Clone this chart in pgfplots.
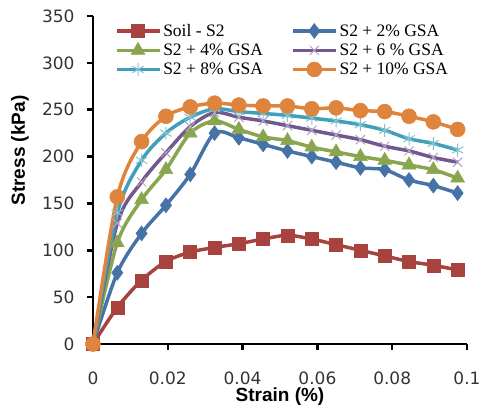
\documentclass[border=0pt]{standalone}
\usepackage{fontspec}
\setmainfont{Liberation Serif}
\newfontfamily\tickfont{DejaVu Sans}
\newfontfamily\labfont{Liberation Sans}
\usepackage{pgfplots}
\usepackage{pgfplotstable}
\pgfplotsset{compat=1.18}
\definecolor{cSoil}{RGB}{168,66,63}
\definecolor{cTwo}{RGB}{69,114,167}
\definecolor{cFour}{RGB}{137,165,78}
\definecolor{cSix}{RGB}{113,88,143}
\definecolor{cEight}{RGB}{65,160,185}
\definecolor{cTen}{RGB}{222,132,60}
\pgfplotstableread{
x soil s2 s4 s6 s8 s10
0 0 0 0 0 0 0
0.0065 39 76 108 129 140 157
0.0130 68 118 154 173 196 216
0.0195 88 148 186 204 225 243
0.0260 98 181 225 232 242 253
0.0325 103 225 238 247 251 257
0.0390 107 220 229 242 248 255
0.0455 112 213 221 238 246 254
0.0520 116 206 217 233 244 254
0.0585 112 200 210 228 241 251
0.0650 106 194 205 223 238 252
0.0715 100 188 200 218 234 249
0.0780 94 186 196 211 228 248
0.0845 88 175 191 206 219 243
0.0910 84 169 186 199 214 237
0.0975 79 161 177 194 207 229
}\datatab
\begin{document}
\begin{tikzpicture}
\path[use as bounding box] (-93pt,-64pt) rectangle (390pt,344pt);
\begin{axis}[
  at={(0pt,0pt)}, anchor=south west,
  scale only axis, width=374pt, height=328pt,
  xmin=0, xmax=0.1, ymin=0, ymax=350,
  axis lines=left, axis line style={-, line width=2.5pt, black},
  tick align=outside, major tick length=6pt,
  tick style={line width=2.5pt, black},
  xtick={0,0.02,0.04,0.06,0.08,0.1},
  xticklabels={0,0.02,0.04,0.06,0.08,0.1},
  ytick={0,50,100,150,200,250,300,350},
  yticklabels={0,50,100,150,200,250,300,350},
  ticklabel style={font=\tickfont\fontsize{17}{20}\selectfont, text=black!80},
  xticklabel style={yshift=-18pt},
  yticklabel style={xshift=-9pt},
  xlabel={Strain (\%)}, ylabel={Stress (kPa)},
  label style={font=\labfont\bfseries\fontsize{19}{22}\selectfont},
  xlabel style={at={(axis description cs:0.5,-0.16)}, anchor=center},
  ylabel style={at={(axis description cs:-0.195,0.59)}, anchor=center},
  clip=false,
  legend columns=2,
  legend cell align=left,
  legend style={draw=none, fill=none, at={(0.055,0.985)}, anchor=north west,
    font=\fontsize{17.5}{19}\selectfont, row sep=2pt, inner sep=1pt,
    /tikz/every even column/.append style={column sep=26pt}},
  legend image code/.code={\draw[mark repeat=2,mark phase=2] plot coordinates {(0pt,0pt)(21.5pt,0pt)(43pt,0pt)};},
]
\addplot[color=cSoil, line width=3.5pt, smooth, tension=0.5, mark=square*, mark size=6.5pt, mark options={line width=0.5pt, fill=cSoil}] table[x=x,y=soil] {\datatab};
\addlegendentry{Soil - S2}
\addplot[color=cTwo, line width=3.5pt, smooth, tension=0.5, mark=diamond*, mark size=7.5pt, mark options={line width=0.5pt, fill=cTwo}] table[x=x,y=s2] {\datatab};
\addlegendentry{S2 + 2\% GSA}
\addplot[color=cFour, line width=3.5pt, smooth, tension=0.5, mark=triangle*, mark size=8pt, mark options={line width=0.5pt, fill=cFour}] table[x=x,y=s4] {\datatab};
\addlegendentry{S2 + 4\% GSA}
\addplot[color=cSix, line width=3.5pt, smooth, tension=0.5, mark=x, mark size=6.5pt, mark options={line width=1pt, color=cSix!55!white}] table[x=x,y=s6] {\datatab};
\addlegendentry{S2 + 6 \% GSA}
\addplot[color=cEight, line width=3.5pt, smooth, tension=0.5, mark=asterisk, mark size=6.5pt, mark options={line width=1pt, color=cEight!65!white}] table[x=x,y=s8] {\datatab};
\addlegendentry{S2 + 8\% GSA}
\addplot[color=cTen, line width=3.5pt, smooth, tension=0.5, mark=*, mark size=7.5pt, mark options={line width=0.5pt, fill=cTen}] table[x=x,y=s10] {\datatab};
\addlegendentry{S2 + 10\% GSA}
\end{axis}
\end{tikzpicture}
\end{document}
